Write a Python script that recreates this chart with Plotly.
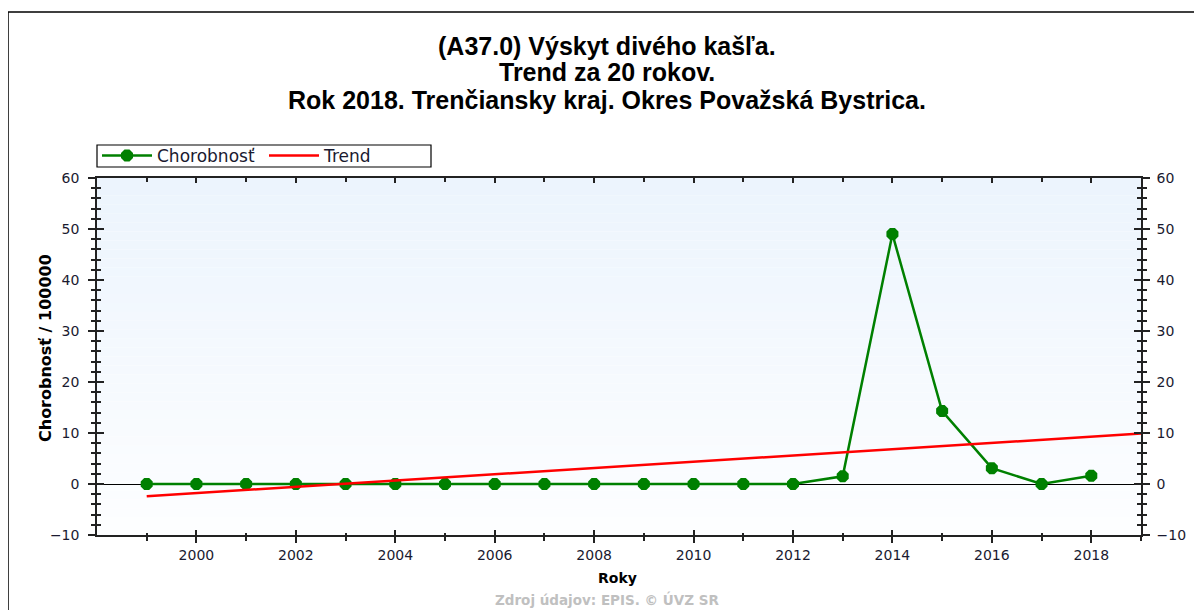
import plotly.graph_objects as go

years = list(range(1999, 2019))
chorobnost = [0, 0, 0, 0, 0, 0, 0, 0, 0, 0, 0, 0, 0, 0, 1.5, 49.0, 14.3, 3.1, 0, 1.6]
trend_years = [1999, 2019]
trend_values = [-2.4, 9.9]
x_tickvals = list(range(2000, 2019, 2))
x_minorvals = list(range(1999, 2020, 2))
y_tickvals = list(range(-10, 61, 10))

title_lines = ["(A37.0) Výskyt divého kašľa.", "Trend za 20 rokov.",
               "Rok 2018. Trenčiansky kraj. Okres Považská Bystrica."]

# page has an 8px body margin; figure sized to fit the 1202x610 window
OFF = 8
W, H = 1194, 602
L, T = 89, 170
pw, ph = 1044, 357
R = W - L - pw
B = H - T - ph

def px(xs):
    return (xs - OFF - L) / pw

def py(ys):
    return (H - B - (ys - OFF)) / ph

fig = go.Figure()
fig.add_trace(go.Scatter(x=years, y=chorobnost, mode="lines+markers", name="Chorobnosť",
                         line=dict(color="#008000", width=2.5),
                         marker=dict(color="#008000", size=13, symbol="octagon")))
fig.add_trace(go.Scatter(x=trend_years, y=trend_values, mode="lines", name="Trend",
                         line=dict(color="#FF0000", width=2.5)))

tickfont = dict(family="DejaVu Sans", size=14, color="#1a1a30")
xr = [1998, 2019]
yr = [-10, 60]
axcol = "#222"

common_x = dict(range=xr, tickmode="array", tickvals=x_tickvals, showgrid=False,
                zeroline=False, linecolor=axcol, linewidth=1.5, tickcolor=axcol,
                fixedrange=True)
common_y = dict(range=yr, tickmode="array", tickvals=y_tickvals, showgrid=False,
                linecolor=axcol, linewidth=1.5, tickcolor=axcol, fixedrange=True)

fig.update_layout(
    width=W, height=H,
    margin=dict(l=L, r=R, t=T, b=B, autoexpand=False),
    paper_bgcolor="white", plot_bgcolor="rgba(0,0,0,0)",
    font=dict(family="DejaVu Sans", color="#000"),
    xaxis=dict(**common_x, showline=True, ticks="outside", ticklen=6, tickwidth=1.5,
               tickfont=tickfont, ticklabelstandoff=0,
               minor=dict(tickvals=x_minorvals, ticks="outside", ticklen=4,
                          tickcolor=axcol, tickwidth=1.5)),
    xaxis2=dict(**common_x, overlaying="x", side="top", showline=True, ticks="inside",
                ticklen=5, tickwidth=1.5, showticklabels=False,
                minor=dict(tickvals=x_minorvals, ticks="inside", ticklen=4,
                           tickcolor=axcol, tickwidth=1.5)),
    xaxis3=dict(**common_x, overlaying="x", side="bottom", showline=False, ticks="inside",
                ticklen=5, tickwidth=1.5, showticklabels=False,
                minor=dict(tickvals=x_minorvals, ticks="inside", ticklen=2,
                           tickcolor=axcol, tickwidth=1.5)),
    yaxis=dict(**common_y, showline=True, ticks="outside", ticklen=7, tickwidth=1.5,
               tickfont=tickfont, ticklabelstandoff=6, zeroline=True,
               zerolinecolor="#000", zerolinewidth=1.2,
               minor=dict(dtick=2, ticks="outside", ticklen=4, tickcolor=axcol,
                          tickwidth=1.5)),
    yaxis3=dict(**common_y, overlaying="y", side="left", showline=False, ticks="inside",
                ticklen=7, tickwidth=1.5, showticklabels=False, zeroline=False,
                minor=dict(dtick=2, ticks="inside", ticklen=4, tickcolor=axcol,
                           tickwidth=1.5)),
    yaxis2=dict(**common_y, overlaying="y", side="right", showline=True, ticks="outside",
                ticklen=7, tickwidth=1.5, tickfont=tickfont, ticklabelstandoff=4,
                zeroline=False,
                minor=dict(dtick=2, ticks="outside", ticklen=4, tickcolor=axcol,
                           tickwidth=1.5)),
    yaxis4=dict(**common_y, overlaying="y", side="right", showline=False, ticks="inside",
                ticklen=7, tickwidth=1.5, showticklabels=False, zeroline=False,
                minor=dict(dtick=2, ticks="inside", ticklen=4, tickcolor=axcol,
                           tickwidth=1.5)),
    showlegend=True,
    legend=dict(orientation="h", x=0, xanchor="left", y=py(138), yanchor="top",
                bgcolor="rgba(0,0,0,0)", borderwidth=0,
                font=dict(family="DejaVu Sans", size=17, color="#1a1a30"),
                entrywidth=102, itemwidth=50, traceorder="normal"),
)

# dummy traces to activate overlay axes
for xa, ya in [("x2", "y3"), ("x3", "y2"), ("x", "y4")]:
    fig.add_trace(go.Scatter(x=[None], y=[None], xaxis=xa, yaxis=ya, showlegend=False,
                             hoverinfo="skip"))

# plot area gradient background
n = 40
c0 = (236, 244, 253)
c1 = (253, 254, 255)
for i in range(n):
    t = i / (n - 1)
    c = tuple(round(c0[k] + (c1[k] - c0[k]) * t) for k in range(3))
    fig.add_shape(type="rect", xref="x domain", yref="y domain", x0=0, x1=1,
                  y0=1 - (i + 1) / n, y1=1 - i / n, fillcolor="rgb(%d,%d,%d)" % c,
                  line_width=0, layer="below")

# outer frame
fig.add_shape(type="rect", xref="paper", yref="paper", x0=px(8), x1=px(1240),
              y0=py(660), y1=py(12), line=dict(color="#000", width=1.5), layer="below")
# legend box
fig.add_shape(type="rect", xref="paper", yref="paper", x0=px(97), x1=px(431),
              y0=py(167), y1=py(145), line=dict(color="#000", width=1.2),
              fillcolor="white", layer="above")

for line, ys in zip(title_lines, [46, 72, 100]):
    fig.add_annotation(text="<b>%s</b>" % line, xref="paper", yref="paper",
                       x=px(607), y=py(ys), xanchor="center", yanchor="middle",
                       showarrow=False,
                       font=dict(family="Liberation Sans", size=25, color="#000"))
fig.add_annotation(text="<b>Chorobnosť / 100000</b>", xref="paper", yref="paper",
                   x=px(45), y=py(348), xanchor="center", yanchor="middle",
                   textangle=-90, showarrow=False,
                   font=dict(family="DejaVu Sans", size=16, color="#000"))
fig.add_annotation(text="<b>Roky</b>", xref="paper", yref="paper", x=px(617), y=py(578),
                   xanchor="center", yanchor="middle",
                   showarrow=False, font=dict(family="DejaVu Sans", size=14, color="#000"))
fig.add_annotation(text="<b>Zdroj údajov: EPIS. © ÚVZ SR</b>", xref="paper", yref="paper",
                   x=px(607), y=py(599), xanchor="center", yanchor="middle",
                   showarrow=False,
                   font=dict(family="DejaVu Sans", size=13.5, color="#c0c0c0"))

fig.write_html("out.html")
